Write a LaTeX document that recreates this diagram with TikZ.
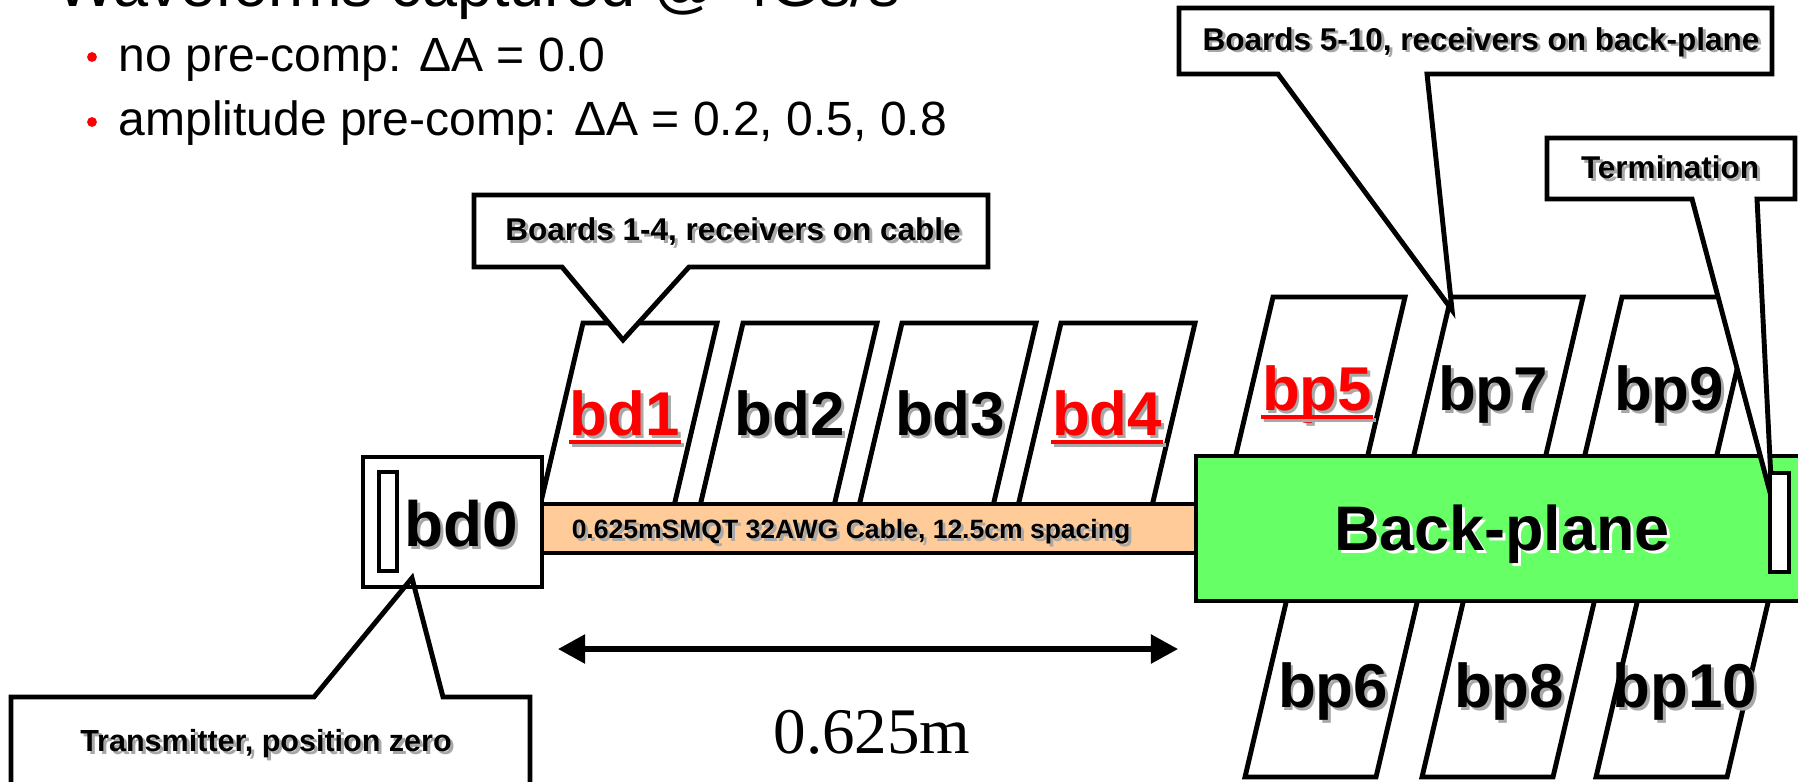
\documentclass[tikz,border=0pt]{standalone}
\usepackage{fontspec}
\setmainfont{Liberation Sans}
\newfontfamily\tnr{Liberation Serif}
\usetikzlibrary{arrows.meta}
\definecolor{peach}{HTML}{FFCC99}
\definecolor{bpgreen}{HTML}{66FF66}
\definecolor{shad}{HTML}{A8A8A8}
\newcommand{\pgram}[4]{% x0, y0, width, y1
  \draw[board] (#1,#2) -- ({#1+#3},#2) -- ({#1+#3-0.235*(#4-#2)},#4) -- ({#1-0.235*(#4-#2)},#4) -- cycle;}
\newcommand{\shlabel}[6]{% name, x, baseline y, colour, style, text
  \node[#5, text=shad, xshift=0.85pt, yshift=-0.85pt] at (#2,#3) {#6};
  \node[#5, text=#4] (#1) at (#2,#3) {#6};}
\newcommand{\ulabel}[1]{% red underline with shadow
  \draw[shad, line width=1pt] ([xshift=0.85pt, yshift=-2.85pt]#1.base west) -- ([xshift=0.85pt, yshift=-2.85pt]#1.base east);
  \draw[red, line width=1pt] ([yshift=-2pt]#1.base west) -- ([yshift=-2pt]#1.base east);}
\begin{document}
\begin{tikzpicture}[x=0.01cm, y=-0.01cm,
  tbox/.style={draw=black, line width=1.4pt, line join=miter},
  board/.style={draw=black, fill=white, line width=1.4pt, line join=miter},
  blbl/.style={inner sep=0pt, anchor=base, font=\bfseries\fontsize{17.6}{20}\selectfont},
  clbl/.style={inner sep=0pt, anchor=base, font=\bfseries\fontsize{8.96}{10}\selectfont},
  btxt/.style={inner sep=0pt, anchor=base west, font=\fontsize{13.66}{16}\selectfont}]
\useasboundingbox (0,0) rectangle (1798,781);
\clip (0,0) rectangle (1798,781);

% title and bullets
\node[inner sep=0pt, anchor=base west, font=\fontsize{17.93}{20}\selectfont] (title) at (56,6) {Waveforms captured @ 4Gs/s};
\fill[red] (92,57) circle[radius=1.4pt];
\fill[red] (92,122) circle[radius=1.4pt];
\node[btxt] (b1) at (118,71) {no pre-comp: ΔA = 0.0};
\node[btxt] (b2) at (118,135) {amplitude pre-comp: ΔA = 0.2, 0.5, 0.8};

% boards on cable
\pgram{583}{323}{134}{545}
\pgram{743}{323}{134}{545}
\pgram{902}{323}{134}{545}
\pgram{1061}{323}{134}{545}

% cable
\draw[tbox, fill=peach] (541,504) rectangle (1196,553);
\shlabel{cable}{851}{538}{black}{inner sep=0pt, anchor=base, font=\bfseries\fontsize{7.54}{9}\selectfont}{0.625mSMQT 32AWG Cable, 12.5cm spacing}

% bd0
\draw[tbox, fill=white] (363,457) rectangle (542,587);
\draw[line width=1.1pt, fill=white] (379,472) rectangle (397,571);
\shlabel{bd0}{461}{546}{black}{inner sep=0pt, anchor=base, font=\bfseries\fontsize{18.2}{20}\selectfont}{bd0}

% back-plane boards
\pgram{1273}{297}{132}{520}
\pgram{1451}{297}{132}{520}
\pgram{1622}{297}{132}{520}
\pgram{1296}{560}{131}{777}
\pgram{1473}{560}{131}{777}
\pgram{1647}{560}{131}{777}

% back-plane
\draw[tbox, fill=bpgreen] (1196,456) rectangle (1830,601);
\node[inner sep=0pt, anchor=base, font=\bfseries\fontsize{17.9}{20}\selectfont, text=white, xshift=0.85pt, yshift=-0.85pt] at (1502,550) {Back-plane};
\node[inner sep=0pt, anchor=base, font=\bfseries\fontsize{17.9}{20}\selectfont] (bplane) at (1502,550) {Back-plane};

% board labels
\shlabel{bd1}{625}{435}{red}{blbl}{bd1}
\shlabel{bd2}{790}{435}{black}{blbl}{bd2}
\shlabel{bd3}{950}{435}{black}{blbl}{bd3}
\shlabel{bd4}{1107}{435}{red}{blbl}{bd4}
\ulabel{bd1}
\ulabel{bd4}
\shlabel{bp5}{1317}{410}{red}{blbl}{bp5}
\shlabel{bp7}{1493}{410}{black}{blbl}{bp7}
\shlabel{bp9}{1669}{410}{black}{blbl}{bp9}
\ulabel{bp5}
\shlabel{bp6}{1333}{707}{black}{blbl}{bp6}
\shlabel{bp8}{1509}{707}{black}{blbl}{bp8}
\shlabel{bp10}{1685}{707}{black}{blbl}{bp10}

% callouts
\draw[tbox, fill=white] (474,195) -- (988,195) -- (988,267) -- (689,267) -- (623,340) -- (562,267) -- (474,267) -- cycle;
\shlabel{c1}{733}{240}{black}{clbl}{Boards 1-4, receivers on cable}

\draw[tbox, fill=white] (1179,8) -- (1772,8) -- (1772,74) -- (1427,74) -- (1452,310) -- (1278,74) -- (1179,74) -- cycle;
\shlabel{c2}{1481}{50}{black}{clbl}{Boards 5-10, receivers on back-plane}

\draw[tbox, fill=white] (1547,138) -- (1795,138) -- (1795,199) -- (1757,199) -- (1772,500) -- (1692,199) -- (1547,199) -- cycle;
\shlabel{c3}{1670}{178}{black}{clbl}{Termination}
\draw[line width=1.2pt, fill=white] (1770,473) rectangle (1789,572);

\draw[tbox, fill=white] (11,810) -- (11,697) -- (314,697) -- (412,578) -- (443,697) -- (530,697) -- (530,810) -- cycle;
\draw[tbox] (363,457) rectangle (542,587);
\shlabel{c4}{266}{751}{black}{inner sep=0pt, anchor=base, font=\bfseries\fontsize{8.68}{10}\selectfont}{Transmitter, position zero}

% dimension arrow
\coordinate (aL) at (558,649);
\coordinate (aR) at (1178,649);
\draw[line width=1.5pt, {Triangle[length=7.7pt,width=8pt]}-{Triangle[length=7.7pt,width=8pt]}] (aL) -- (aR);
\node[inner sep=0pt, anchor=base, font=\tnr\fontsize{18.5}{20}\selectfont] (len) at (872,753) {0.625m};
\end{tikzpicture}
\end{document}
